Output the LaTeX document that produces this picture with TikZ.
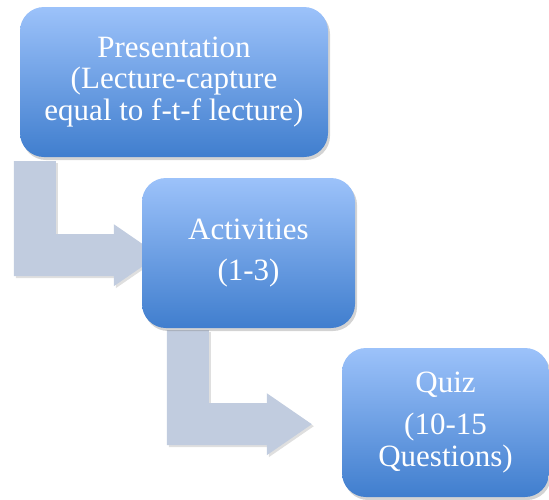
\documentclass[tikz,border=0pt]{standalone}
\usepackage{fontspec}
\setmainfont{Liberation Serif}
\usetikzlibrary{shadows,calc,backgrounds}

\definecolor{boxtop}{RGB}{156,194,250}
\definecolor{boxbot}{RGB}{64,126,206}
\definecolor{bendgray}{RGB}{193,204,223}

\tikzset{
  stage/.style={rounded corners=24pt, top color=boxtop, bottom color=boxbot,
    draw=none, text=white, align=center, inner sep=0pt,
    font=\fontsize{31}{31.5}\selectfont,
    execute at begin node={\rule{0pt}{36pt}},
    drop shadow={opacity=0.35, shadow xshift=2pt, shadow yshift=-3pt}},
  bendarrow/.style={fill=bendgray,
    drop shadow={opacity=0.25, shadow xshift=2pt, shadow yshift=-2pt}}
}

% bent block arrow, given the top left corner of its stem
\newcommand{\bentarrow}[1]{%
  \fill[bendarrow] (#1) -- ++(42,0) -- ++(0,73) -- ++(58,0) -- ++(0,-10)
    -- ++(45,31) -- ++(-45,31) -- ++(0,-10) -- ++(-100,0) -- cycle;}

\begin{document}
\begin{tikzpicture}[x=1pt,y=-1pt]
  \useasboundingbox (0,0) rectangle (549,499);

  % Stages
  \node[stage, minimum width=308pt, minimum height=150pt] (pres) at (174,82)
    {Presentation\\(Lecture-capture\\equal to f-t-f lecture)};
  \node[stage, minimum width=213pt, minimum height=150pt] (act) at (248.5,253)
    {Activities\\[10pt](1-3)};
  \node[stage, minimum width=207pt, minimum height=149pt] (quiz) at (445.5,422.5)
    {Quiz\\[11pt](10-15\\Questions)};

  % Bent arrows behind the boxes
  \coordinate (s1) at ($(pres.south west)+(-6,4)$);
  \coordinate (s2) at ($(act.south west)+(25,2)$);
  \begin{scope}[on background layer]
    \bentarrow{s1}
    \bentarrow{s2}
  \end{scope}
\end{tikzpicture}
\end{document}
